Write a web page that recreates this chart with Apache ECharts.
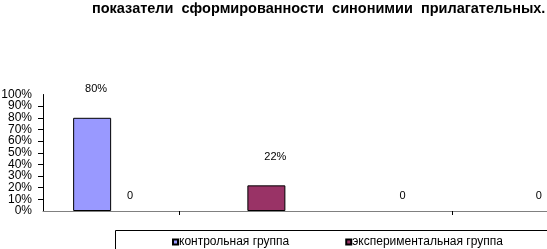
<!DOCTYPE html>
<html><head><meta charset="utf-8">
<script src="https://cdn.jsdelivr.net/npm/echarts@6/dist/echarts.min.js"></script>
<style>html,body{margin:0;padding:0;background:#fff}#c{width:547px;height:249px}</style>
</head><body><div id="c"></div>
<script>
const titleText = 'показатели  сформированности  синонимии  прилагательных.';
const categories = ['1', '2', '3', '4'];
const seriesNames = ['контрольная группа', 'экспериментальная группа'];
const controlValues = [80, null, null, null];
const experimentalValues = [0, 22, 0, 0];
const yTicks = ['0%','10%','20%','30%','40%','50%','60%','70%','80%','90%','100%'];

const FONT = '"Liberation Sans", Arial, sans-serif';
const labelShift = {80: 4, 22: 9};
function buildData(vals){
  return vals.map(v => {
    if (v === null) return '-';
    return {
      value: v,
      itemStyle: v === 0 ? {borderWidth: 0} : {},
      label: {distance: v === 0 ? 10 : 23, offset: [labelShift[v] || 0, 0]}
    };
  });
}
const yLabelStyle = {margin: 11, fontSize: 12, color: '#000', fontFamily: FONT,
  formatter: (v) => yTicks[Math.round(v/10)]};
const chart = echarts.init(document.getElementById('c'), null, {renderer: 'canvas'});
chart.setOption({
  animation: false,
  textStyle: {fontFamily: FONT},
  title: {text: titleText, left: 92, top: 1, padding: 0, textStyle: {fontSize: 14.5, fontWeight: 'bold', color: '#000', fontFamily: FONT}},
  grid: {left: 43, top: 94.5, right: -41, bottom: 38, containLabel: false, outerBoundsMode: 'none'},
  legend: {
    data: seriesNames, left: 172, top: 236, padding: 0, itemWidth: 5, itemHeight: 5, itemGap: 56,
    textStyle: {fontSize: 12, color: '#000', fontFamily: FONT, padding: [0,0,0,-4]}, icon: 'rect'
  },
  graphic: [{type: 'rect', left: 113, top: 228, shape: {width: 500, height: 40}, style: {fill: 'none', stroke: '#000', lineWidth: 1}}],
  xAxis: [{
    type: 'category', data: categories, position: 'bottom',
    axisLine: {show: false},
    axisTick: {show: true, length: 4, lineStyle: {color: '#000'}, interval: (i) => i === 1 || i === 3},
    axisLabel: {show: false}
  }, {
    type: 'category', data: categories, position: 'top',
    axisLine: {show: true, lineStyle: {color: '#808080', width: 1}},
    axisTick: {show: false}, axisLabel: {show: false}
  }],
  yAxis: [{
    type: 'value', min: 0, max: 100, interval: 10, position: 'left',
    axisLine: {show: true, lineStyle: {color: '#000'}},
    axisTick: {show: true, length: 5, lineStyle: {color: '#000'}},
    splitLine: {show: false},
    axisLabel: Object.assign({showMinLabel: false, showMaxLabel: false}, yLabelStyle)
  }, {
    type: 'value', min: 0, max: 100, interval: 100, position: 'left', offset: 0,
    axisLine: {show: false}, axisTick: {show: false}, splitLine: {show: false},
    axisLabel: Object.assign({showMinLabel: true, showMaxLabel: true}, yLabelStyle)
  }],
  series: [{
    name: seriesNames[0], type: 'bar', barWidth: 38, barGap: '0%', yAxisIndex: 0,
    data: buildData(controlValues),
    itemStyle: {color: '#9999FF', borderColor: '#000', borderWidth: 1},
    label: {show: true, position: 'top', fontSize: 11, color: '#000', fontFamily: FONT,
      formatter: (p) => p.value === 0 ? '0' : p.value + '%'}
  }, {
    name: seriesNames[1], type: 'bar', barWidth: 38, barGap: '0%', yAxisIndex: 0,
    data: buildData(experimentalValues),
    itemStyle: {color: '#993366', borderColor: '#000', borderWidth: 1},
    label: {show: true, position: 'top', fontSize: 11, color: '#000', fontFamily: FONT,
      formatter: (p) => p.value === 0 ? '0' : p.value + '%'}
  }]
});
</script></body></html>
